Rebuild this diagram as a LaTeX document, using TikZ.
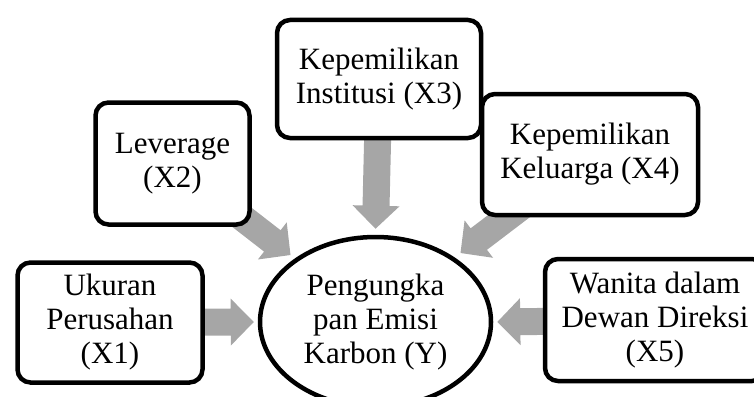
\documentclass[tikz,border=0pt]{standalone}
\usepackage{fontspec}
\setmainfont{Liberation Serif}
\usetikzlibrary{calc,shapes.geometric,backgrounds}
\definecolor{arrowgray}{HTML}{A6A6A6}
\newcommand\blockarrow[2]{%
  \coordinate (ba-k) at ($(#2)!23pt!(#1)$);
  \fill[arrowgray] ($(#1)!13.5pt!90:(#2)$) -- ($(ba-k)!13.5pt!90:(#2)$)
    -- ($(ba-k)!23.5pt!90:(#2)$) -- (#2) -- ($(ba-k)!23.5pt!-90:(#2)$)
    -- ($(ba-k)!13.5pt!-90:(#2)$) -- ($(#1)!13.5pt!-90:(#2)$) -- cycle;
}
\begin{document}
\begin{tikzpicture}[x=1pt,y=-1pt,
  txt/.style={align=center, font=\fontsize{31}{34}\selectfont, inner sep=0pt},
  box/.style={txt, draw, line width=4.5pt, rounded corners=13pt, fill=white},
  oval/.style={txt, ellipse, draw, line width=4.5pt, fill=white}]
\useasboundingbox (0,0) rectangle (754,396);
\node[box, minimum width=185pt, minimum height=120pt] (x1) at (110,322.5) {Ukuran\\Perusahan\\(X1)};
\node[box, minimum width=154pt, minimum height=122pt] (x2) at (172.5,163.5) {Leverage\\(X2)};
\node[box, minimum width=204pt, minimum height=118pt] (x3) at (379,79) {Kepemilikan\\Institusi (X3)};
\node[box, minimum width=216pt, minimum height=121pt] (x4) at (590,154.5) {Kepemilikan\\Keluarga (X4)};
\node[box, minimum width=220pt, minimum height=122pt] (x5) at (655,320) {Wanita dalam\\Dewan Direksi\\(X5)};
\node[oval, minimum width=231pt, minimum height=170pt] (y) at (375.5,322) {Pengungka\\pan Emisi\\Karbon (Y)};
\coordinate (t1) at ($(y.west)+(-4,0)$);
\coordinate (t2) at ($(y.center)+(-85,-67)$);
\coordinate (t3) at ($(y.north)+(0,-6)$);
\coordinate (t4) at ($(y.center)+(85,-69)$);
\coordinate (t5) at ($(y.east)+(4,0)$);
\begin{scope}[on background layer]
  \blockarrow{x1.center}{t1}
  \blockarrow{x2.center}{t2}
  \blockarrow{x3.center}{t3}
  \blockarrow{x4.center}{t4}
  \blockarrow{x5.center}{t5}
\end{scope}
\end{tikzpicture}
\end{document}
